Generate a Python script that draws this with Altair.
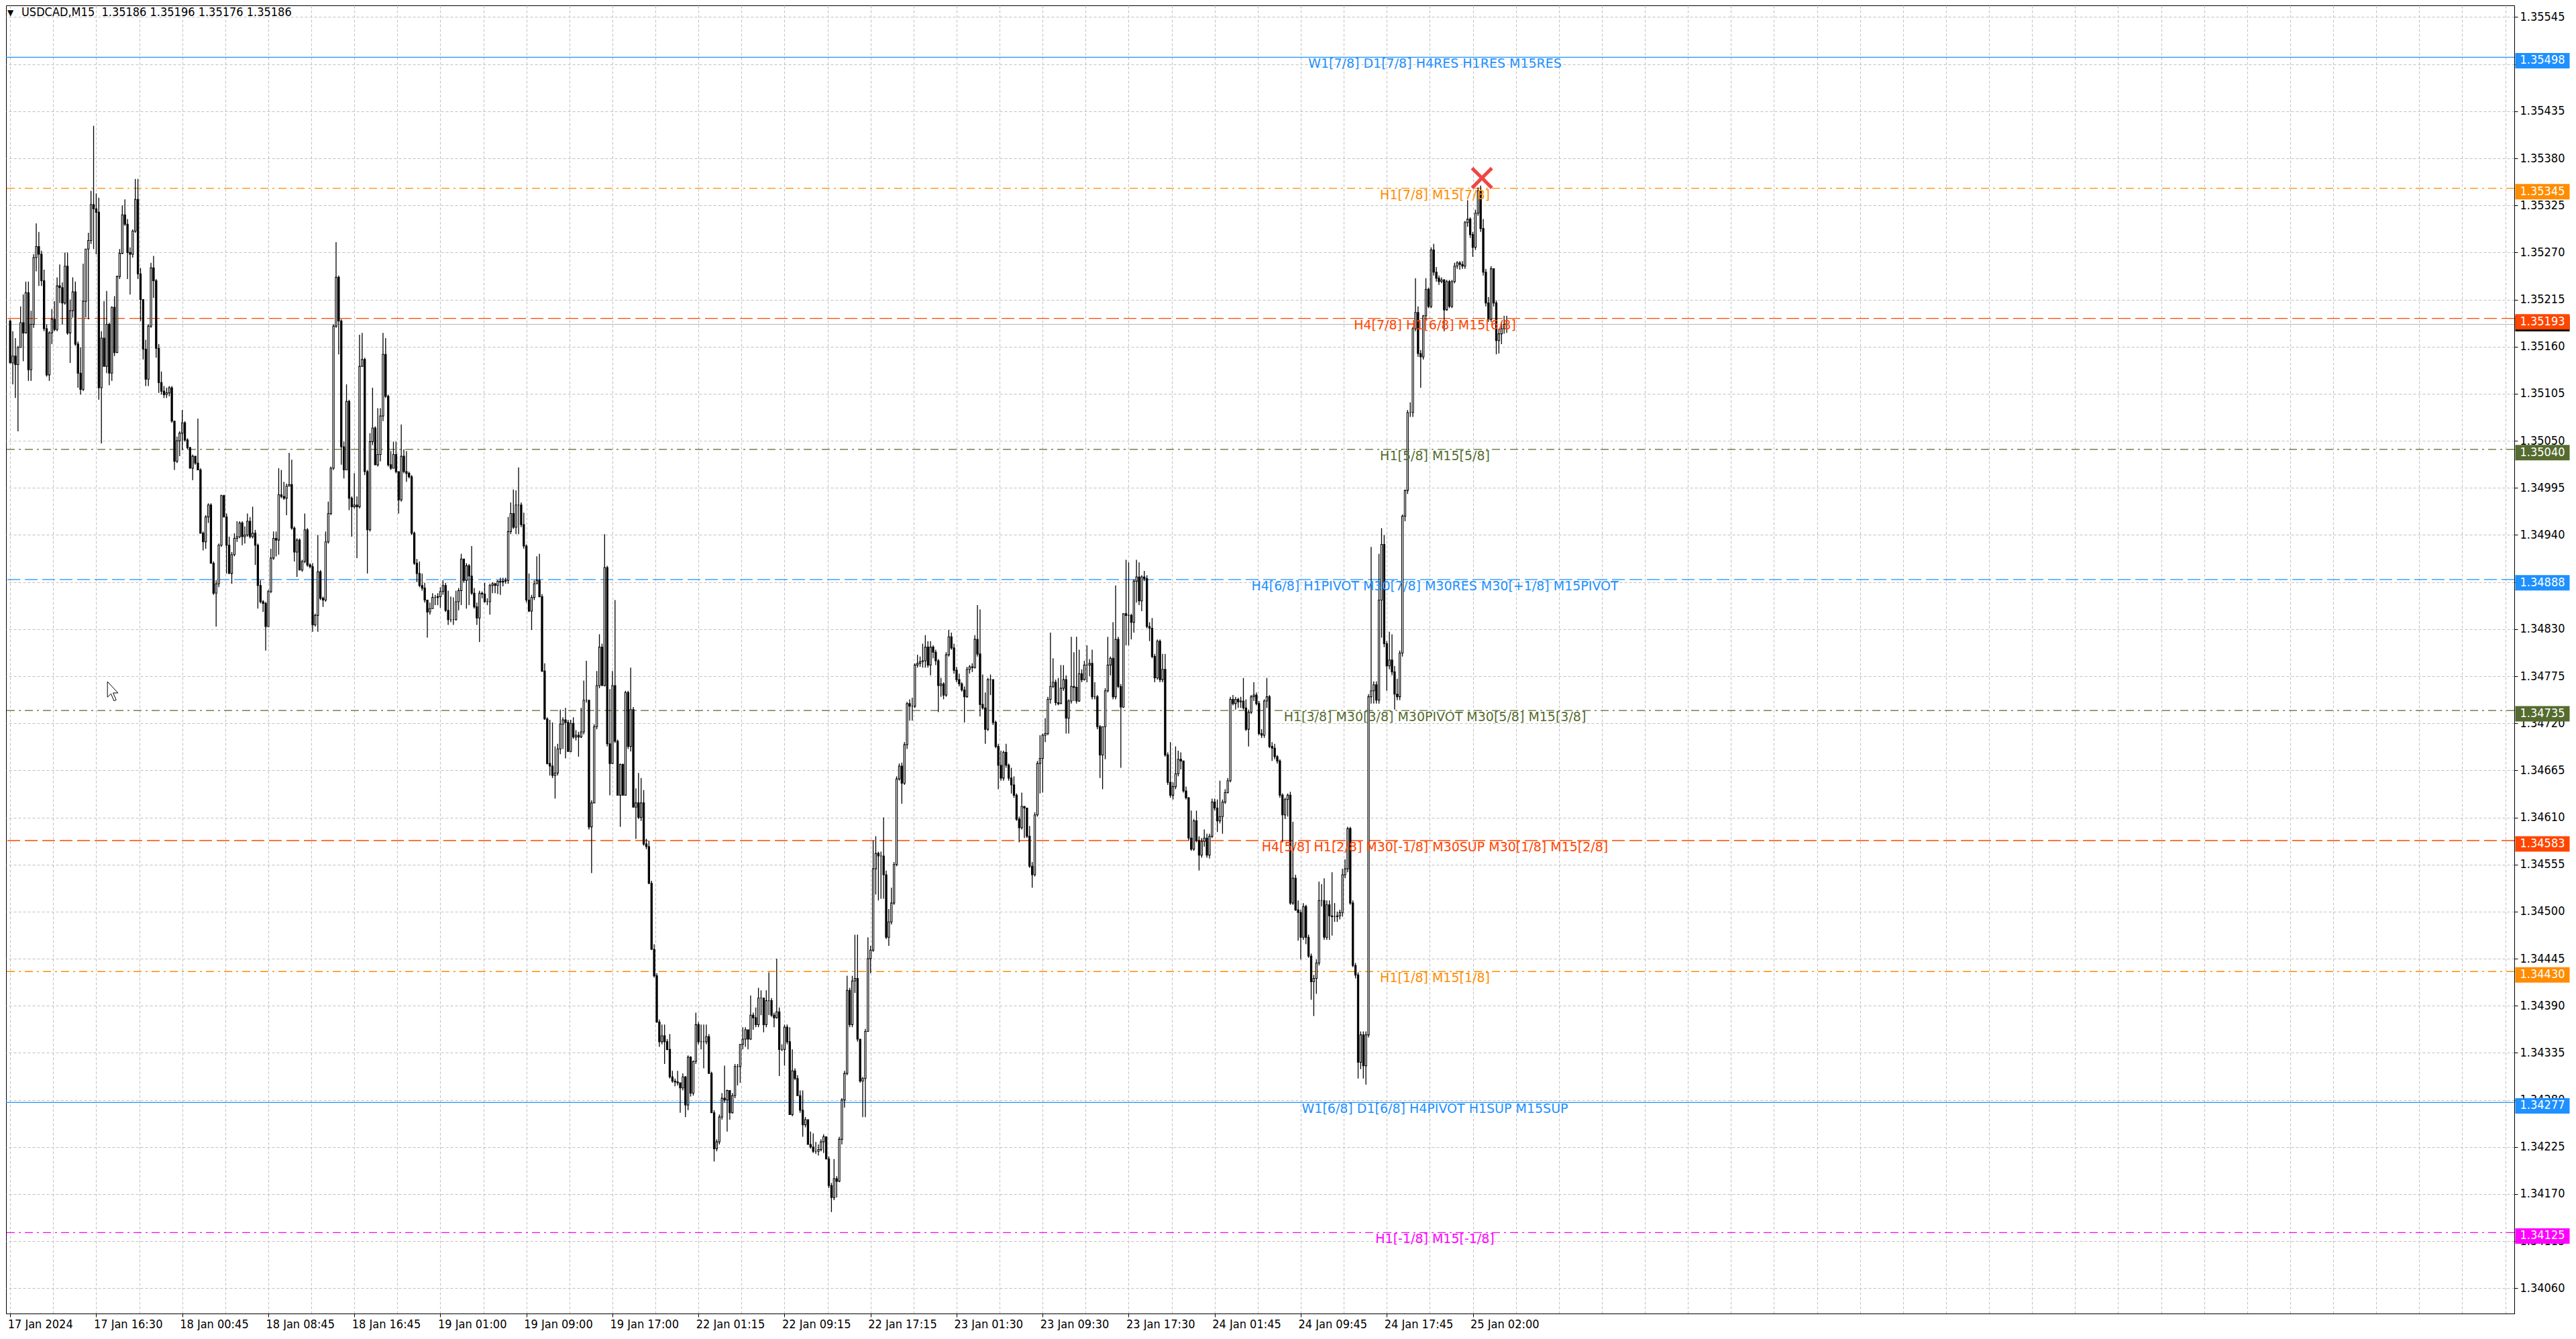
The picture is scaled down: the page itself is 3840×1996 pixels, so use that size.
import json

import altair as alt
import pandas as pd

# USDCAD M15 candles, prices in points (1 point = 0.00001)
first_open = 135190
high = [
    135192, 135178, 135170, 135161, 135207, 135221, 135236, 135236, 135202, 135268,
    135304, 135294, 135272, 135250, 135186, 135178, 135204, 135213, 135241, 135256,
    135235, 135270, 135270, 135215, 135241, 135236, 135166, 135159, 135257, 135274,
    135293, 135342, 135418, 135339, 135334, 135178, 135213, 135225, 135188, 135207,
    135219, 135243, 135274, 135325, 135332, 135309, 135276, 135297, 135356, 135356,
    135252, 135215, 135168, 135186, 135258, 135266, 135239, 135163, 135131, 135114,
    135112, 135114, 135114, 135073, 135055, 135061, 135086, 135073, 135053, 135043,
    135034, 135032, 135076, 135018, 134944, 134963, 134977, 134977, 134909, 134887,
    134930, 134987, 134987, 134965, 134938, 134920, 134942, 134956, 134956, 134956,
    134950, 134965, 134961, 134973, 134946, 134930, 134887, 134864, 134862, 134876,
    134924, 134944, 134944, 135018, 135016, 135002, 135000, 135036, 135028, 134950,
    134936, 134936, 134911, 134965, 134948, 134907, 134907, 134848, 134940, 134899,
    134868, 134944, 134979, 135020, 135186, 135282, 135243, 135192, 135049, 135116,
    135098, 134985, 135012, 134985, 135174, 135176, 135147, 135016, 135059, 135112,
    135067, 135088, 135088, 135176, 135170, 135104, 135038, 135049, 135049, 135014,
    135069, 135040, 135038, 135014, 135010, 134944, 134912, 134909, 134895, 134884,
    134861, 134861, 134872, 134870, 134872, 134879, 134887, 134884, 134875, 134868,
    134867, 134875, 134878, 134918, 134912, 134907, 134906, 134927, 134878, 134861,
    134875, 134874, 134884, 134866, 134883, 134885, 134884, 134887, 134890, 134890,
    134890, 134961, 134978, 134993, 134992, 135019, 134978, 134966, 134929, 134895,
    134870, 134887, 134915, 134918, 134871, 134790, 134727, 134724, 134721, 134693,
    134696, 134736, 134727, 134738, 134724, 134724, 134727, 134712, 134710, 134738,
    134770, 134793, 134747, 134630, 134719, 134781, 134824, 134813, 134941, 134904,
    134760, 134781, 134864, 134701, 134673, 134673, 134758, 134758, 134785, 134739,
    134644, 134662, 134656, 134642, 134585, 134583, 134536, 134462, 134428, 134374,
    134368, 134368, 134351, 134357, 134314, 134305, 134314, 134300, 134311, 134308,
    134332, 134331, 134326, 134382, 134371, 134368, 134368, 134368, 134357, 134313,
    134268, 134234, 134263, 134288, 134320, 134292, 134291, 134288, 134322, 134322,
    134345, 134365, 134365, 134362, 134402, 134382, 134388, 134411, 134408, 134399,
    134408, 134429, 134399, 134382, 134445, 134388, 134345, 134368, 134368, 134365,
    134339, 134317, 134309, 134291, 134291, 134260, 134257, 134243, 134241, 134231,
    134228, 134234, 134240, 134237, 134214, 134183, 134211, 134191, 134237, 134282,
    134314, 134425, 134411, 134425, 134473, 134473, 134351, 134307, 134363, 134470,
    134460, 134583, 134588, 134570, 134570, 134610, 134548, 134503, 134528, 134558,
    134658, 134673, 134674, 134698, 134745, 134748, 134750, 134790, 134800, 134798,
    134813, 134823, 134816, 134816, 134811, 134806, 134795, 134773, 134768, 134803,
    134829, 134826, 134813, 134786, 134778, 134768, 134763, 134786, 134788, 134790,
    134823, 134858, 134853, 134777, 134756, 134773, 134777, 134771, 134723, 134696,
    134688, 134688, 134696, 134673, 134668, 134658, 134638, 134611, 134639, 134623,
    134618, 134600, 134558, 134616, 134676, 134706, 134708, 134726, 134751, 134826,
    134796, 134771, 134773, 134788, 134788, 134776, 134748, 134821, 134803, 134821,
    134806, 134783, 134793, 134811, 134795, 134806, 134768, 134753, 134718, 134716,
    134761, 134821, 134798, 134838, 134881, 134821, 134766, 134848, 134911, 134908,
    134848, 134888, 134911, 134908, 134893, 134898, 134893, 134838, 134843, 134801,
    134818, 134818, 134801, 134801, 134686, 134698, 134651, 134693, 134688, 134686,
    134676, 134646, 134634, 134618, 134608, 134618, 134588, 134586, 134596, 134591,
    134591, 134632, 134632, 134631, 134653, 134631, 134643, 134656, 134751, 134753,
    134751, 134750, 134751, 134773, 134748, 134736, 134753, 134768, 134756, 134746,
    134713, 134748, 134773, 134753, 134698, 134696, 134683, 134678, 134638, 134633,
    134638, 134640, 134605, 134543, 134513, 134502, 134510, 134508, 134473, 134451,
    134426, 134444, 134535, 134532, 134539, 134513, 134513, 134546, 134510, 134500,
    134502, 134550, 134561, 134599, 134599, 134513, 134440, 134429, 134360, 134360,
    134360, 134754, 134926, 134769, 134769, 134918, 134948, 134940, 134816, 134827,
    134824, 134787, 134772, 134805, 134964, 134993, 135086, 135095, 135183, 135240,
    135207, 135156, 135197, 135240, 135229, 135276, 135280, 135253, 135243, 135241,
    135239, 135238, 135238, 135238, 135258, 135260, 135260, 135260, 135307, 135331,
    135311, 135294, 135320, 135346, 135348, 135309, 135251, 135218, 135254, 135251,
    135214, 135181, 135189, 135196, 135196,
]
low = [
    135141, 135116, 135100, 135061, 135161, 135143, 135176, 135120, 135120, 135182,
    135248, 135231, 135231, 135178, 135125, 135120, 135163, 135178, 135178, 135211,
    135186, 135209, 135174, 135141, 135194, 135161, 135112, 135104, 135108, 135194,
    135192, 135280, 135274, 135268, 135098, 135047, 135137, 135129, 135115, 135120,
    135149, 135161, 135239, 135268, 135301, 135239, 135221, 135264, 135293, 135239,
    135190, 135145, 135114, 135114, 135182, 135217, 135147, 135106, 135104, 135100,
    135100, 135102, 135071, 135016, 135024, 135032, 135039, 135049, 135040, 135018,
    135004, 135022, 135016, 134942, 134922, 134924, 134954, 134907, 134870, 134833,
    134879, 134926, 134961, 134895, 134895, 134883, 134915, 134932, 134936, 134928,
    134930, 134938, 134936, 134936, 134905, 134854, 134860, 134850, 134805, 134833,
    134872, 134911, 134915, 134917, 134983, 134981, 134963, 134997, 134946, 134909,
    134891, 134899, 134897, 134907, 134903, 134901, 134827, 134833, 134827, 134864,
    134856, 134862, 134930, 134963, 135016, 135182, 135151, 135022, 135006, 135016,
    134969, 134938, 134971, 134913, 134971, 135137, 135010, 134895, 134944, 135045,
    135022, 135020, 135026, 135073, 135100, 135020, 135016, 135018, 135012, 134965,
    134979, 135012, 135002, 135006, 134940, 134905, 134885, 134879, 134875, 134861,
    134820, 134847, 134855, 134858, 134858, 134855, 134870, 134850, 134835, 134838,
    134835, 134840, 134852, 134858, 134884, 134854, 134858, 134870, 134854, 134835,
    134815, 134866, 134861, 134858, 134847, 134872, 134872, 134871, 134870, 134880,
    134883, 134883, 134941, 134947, 134941, 134941, 134949, 134924, 134861, 134850,
    134829, 134864, 134883, 134867, 134780, 134724, 134672, 134659, 134656, 134632,
    134659, 134684, 134690, 134679, 134687, 134686, 134702, 134700, 134681, 134703,
    134707, 134744, 134596, 134545, 134627, 134713, 134761, 134764, 134763, 134693,
    134636, 134673, 134697, 134636, 134599, 134636, 134636, 134690, 134687, 134622,
    134585, 134608, 134606, 134577, 134573, 134532, 134455, 134423, 134370, 134342,
    134345, 134322, 134338, 134305, 134300, 134296, 134297, 134265, 134291, 134260,
    134268, 134284, 134285, 134322, 134345, 134339, 134317, 134345, 134311, 134265,
    134208, 134220, 134228, 134257, 134277, 134243, 134257, 134264, 134282, 134297,
    134300, 134339, 134342, 134339, 134350, 134362, 134365, 134365, 134379, 134359,
    134365, 134379, 134377, 134365, 134375, 134308, 134337, 134320, 134345, 134263,
    134261, 134303, 134285, 134265, 134237, 134248, 134228, 134223, 134218, 134217,
    134215, 134220, 134218, 134211, 134177, 134149, 134163, 134166, 134184, 134228,
    134271, 134309, 134365, 134365, 134405, 134348, 134300, 134260, 134260, 134360,
    134428, 134453, 134520, 134513, 134515, 134515, 134468, 134460, 134485, 134508,
    134553, 134653, 134626, 134648, 134690, 134723, 134723, 134738, 134785, 134786,
    134785, 134785, 134785, 134776, 134796, 134788, 134733, 134751, 134748, 134751,
    134798, 134806, 134778, 134768, 134763, 134757, 134721, 134750, 134778, 134780,
    134784, 134798, 134728, 134736, 134696, 134711, 134753, 134718, 134691, 134643,
    134653, 134653, 134668, 134653, 134638, 134633, 134606, 134581, 134596, 134586,
    134586, 134551, 134528, 134541, 134611, 134638, 134639, 134698, 134706, 134743,
    134761, 134741, 134741, 134743, 134758, 134708, 134708, 134743, 134746, 134743,
    134745, 134768, 134770, 134768, 134775, 134748, 134748, 134713, 134656, 134643,
    134678, 134756, 134776, 134748, 134748, 134761, 134668, 134738, 134811, 134811,
    134818, 134826, 134861, 134858, 134851, 134886, 134831, 134816, 134796, 134768,
    134771, 134768, 134768, 134681, 134648, 134633, 134631, 134643, 134658, 134666,
    134639, 134631, 134583, 134571, 134571, 134581, 134548, 134563, 134576, 134563,
    134562, 134586, 134618, 134593, 134603, 134591, 134626, 134638, 134651, 134741,
    134736, 134738, 134738, 134736, 134711, 134693, 134731, 134746, 134741, 134706,
    134703, 134703, 134738, 134691, 134676, 134678, 134673, 134633, 134581, 134608,
    134611, 134508, 134508, 134501, 134466, 134444, 134467, 134462, 134446, 134397,
    134378, 134404, 134437, 134506, 134467, 134467, 134467, 134472, 134488, 134488,
    134491, 134494, 134539, 134546, 134508, 134435, 134422, 134305, 134316, 134305,
    134298, 134353, 134743, 134743, 134743, 134743, 134820, 134809, 134758, 134783,
    134776, 134736, 134747, 134747, 134798, 134956, 134988, 135078, 135078, 135178,
    135148, 135112, 135145, 135190, 135205, 135205, 135243, 135236, 135232, 135234,
    135178, 135202, 135205, 135205, 135234, 135251, 135250, 135251, 135251, 135300,
    135287, 135265, 135273, 135313, 135294, 135243, 135207, 135189, 135189, 135207,
    135151, 135152, 135163, 135175, 135176,
]
close = [
    135141, 135149, 135139, 135159, 135188, 135176, 135223, 135133, 135186, 135264,
    135277, 135268, 135237, 135181, 135127, 135176, 135192, 135180, 135231, 135229,
    135211, 135254, 135176, 135202, 135224, 135163, 135129, 135110, 135213, 135274,
    135284, 135326, 135321, 135317, 135112, 135170, 135137, 135186, 135129, 135206,
    135153, 135242, 135269, 135314, 135303, 135270, 135268, 135295, 135332, 135245,
    135215, 135157, 135122, 135184, 135252, 135237, 135158, 135118, 135108, 135104,
    135106, 135112, 135073, 135026, 135050, 135059, 135071, 135051, 135042, 135018,
    135032, 135024, 135016, 134942, 134932, 134961, 134975, 134907, 134872, 134883,
    134928, 134986, 134961, 134928, 134895, 134917, 134936, 134938, 134954, 134938,
    134940, 134956, 134938, 134942, 134928, 134881, 134862, 134860, 134833, 134874,
    134913, 134936, 134934, 134987, 134985, 134983, 134997, 134999, 134948, 134920,
    134934, 134899, 134909, 134946, 134905, 134903, 134835, 134846, 134897, 134866,
    134864, 134932, 134965, 135018, 135184, 135241, 135190, 135043, 135016, 135096,
    134983, 134973, 134975, 134973, 135137, 135145, 135014, 134946, 135049, 135065,
    135022, 135034, 135079, 135151, 135102, 135022, 135018, 135034, 135014, 134981,
    135032, 135014, 135012, 135008, 134942, 134907, 134895, 134881, 134878, 134864,
    134850, 134854, 134867, 134867, 134868, 134874, 134881, 134852, 134841, 134841,
    134841, 134862, 134875, 134912, 134887, 134904, 134892, 134872, 134856, 134843,
    134872, 134871, 134862, 134862, 134881, 134883, 134881, 134886, 134885, 134886,
    134887, 134944, 134965, 134949, 134975, 134975, 134952, 134927, 134864, 134851,
    134867, 134883, 134887, 134868, 134781, 134725, 134673, 134670, 134659, 134662,
    134690, 134719, 134724, 134721, 134687, 134720, 134704, 134706, 134704, 134710,
    134747, 134747, 134599, 134627, 134716, 134764, 134809, 134764, 134902, 134696,
    134673, 134764, 134699, 134636, 134672, 134636, 134756, 134693, 134736, 134622,
    134627, 134610, 134627, 134579, 134576, 134533, 134456, 134425, 134371, 134348,
    134355, 134348, 134339, 134307, 134302, 134301, 134300, 134294, 134307, 134274,
    134330, 134288, 134325, 134368, 134348, 134348, 134348, 134354, 134311, 134265,
    134223, 134231, 134260, 134282, 134280, 134291, 134265, 134285, 134319, 134319,
    134345, 134351, 134362, 134351, 134379, 134376, 134368, 134399, 134399, 134368,
    134396, 134396, 134379, 134376, 134383, 134339, 134339, 134365, 134348, 134263,
    134314, 134305, 134285, 134268, 134251, 134257, 134228, 134225, 134220, 134220,
    134222, 134231, 134237, 134211, 134180, 134166, 134188, 134185, 134234, 134280,
    134311, 134408, 134368, 134419, 134422, 134351, 134302, 134305, 134360, 134445,
    134455, 134550, 134568, 134565, 134565, 134543, 134470, 134488, 134510, 134555,
    134655, 134670, 134650, 134695, 134743, 134740, 134740, 134788, 134790, 134792,
    134793, 134809, 134788, 134809, 134803, 134793, 134764, 134766, 134753, 134800,
    134821, 134808, 134782, 134771, 134766, 134759, 134751, 134783, 134786, 134785,
    134818, 134801, 134742, 134738, 134713, 134771, 134771, 134721, 134693, 134671,
    134656, 134686, 134671, 134656, 134648, 134636, 134608, 134598, 134623, 134621,
    134588, 134553, 134543, 134613, 134673, 134679, 134706, 134708, 134748, 134763,
    134768, 134744, 134743, 134761, 134771, 134726, 134746, 134763, 134762, 134746,
    134778, 134771, 134788, 134788, 134790, 134751, 134751, 134716, 134683, 134716,
    134758, 134788, 134796, 134751, 134818, 134763, 134739, 134848, 134846, 134846,
    134838, 134886, 134891, 134863, 134891, 134889, 134833, 134831, 134798, 134773,
    134816, 134771, 134783, 134683, 134651, 134636, 134646, 134661, 134678, 134676,
    134641, 134633, 134586, 134573, 134606, 134583, 134566, 134582, 134586, 134566,
    134588, 134628, 134621, 134606, 134611, 134628, 134639, 134653, 134748, 134743,
    134748, 134745, 134746, 134738, 134713, 134733, 134751, 134753, 134743, 134708,
    134706, 134746, 134751, 134693, 134691, 134681, 134676, 134636, 134613, 134631,
    134636, 134510, 134539, 134502, 134499, 134470, 134506, 134470, 134448, 134418,
    134422, 134440, 134513, 134513, 134470, 134508, 134495, 134494, 134494, 134495,
    134499, 134543, 134550, 134597, 134510, 134437, 134426, 134324, 134356, 134320,
    134356, 134751, 134758, 134765, 134747, 134864, 134929, 134813, 134787, 134794,
    134780, 134754, 134751, 134802, 134962, 134992, 135083, 135083, 135181, 135200,
    135152, 135148, 135196, 135227, 135207, 135273, 135247, 135240, 135236, 135238,
    135203, 135236, 135207, 135236, 135254, 135258, 135256, 135254, 135305, 135309,
    135291, 135276, 135316, 135342, 135298, 135247, 135211, 135192, 135251, 135211,
    135167, 135175, 135181, 135186, 135186,
]

# time axis: one label every 33 bars, grid every half step
time_labels = [
    "17 Jan 2024", "17 Jan 16:30", "18 Jan 00:45", "18 Jan 08:45", "18 Jan 16:45",
    "19 Jan 01:00", "19 Jan 09:00", "19 Jan 17:00", "22 Jan 01:15", "22 Jan 09:15",
    "22 Jan 17:15", "23 Jan 01:30", "23 Jan 09:30", "23 Jan 17:30", "24 Jan 01:45",
    "24 Jan 09:45", "24 Jan 17:45", "25 Jan 02:00",
]
label_step = 33

price_ticks = [
    1.34060, 1.34115, 1.34170, 1.34225, 1.34280, 1.34335, 1.34390, 1.34445,
    1.34500, 1.34555, 1.34610, 1.34665, 1.34720, 1.34775, 1.34830, 1.34885,
    1.34940, 1.34995, 1.35050, 1.35105, 1.35160, 1.35215, 1.35270, 1.35325,
    1.35380, 1.35435, 1.35490, 1.35545,
]

# murrey math levels
level_price = [1.35498, 1.35345, 1.35193, 1.35040, 1.34888,
               1.34735, 1.34583, 1.34430, 1.34277, 1.34125]
level_color = ["#1e90ff", "#ff8c00", "#ff4500", "#556b2f", "#1e90ff",
               "#556b2f", "#ff4500", "#ff8c00", "#1e90ff", "#ff00ff"]
level_style = ["solid", "dashdot", "dash", "dashdot", "dash",
               "dashdot", "dash", "dashdot", "solid", "dashdot"]
level_text = [
    "W1[7/8] D1[7/8] H4RES H1RES M15RES",
    "H1[7/8] M15[7/8]",
    "H4[7/8] H1[6/8] M15[6/8]",
    "H1[5/8] M15[5/8]",
    "H4[6/8] H1PIVOT M30[7/8] M30RES M30[+1/8] M15PIVOT",
    "H1[3/8] M30[3/8] M30PIVOT M30[5/8] M15[3/8]",
    "H4[5/8] H1[2/8] M30[-1/8] M30SUP M30[1/8] M15[2/8]",
    "H1[1/8] M15[1/8]",
    "W1[6/8] D1[6/8] H4PIVOT H1SUP M15SUP",
    "H1[-1/8] M15[-1/8]",
]

bid = 1.35186
cross_bar = 564.5
cross_price = 1.35357

W, H = 3739, 1950
FONT = "DejaVu Sans Condensed"
LFONT = "DejaVu Sans"
X_PATH = "M-1,-0.78L-0.78,-1L0,-0.22L0.78,-1L1,-0.78L0.22,0L1,0.78L0.78,1L0,0.22L-0.78,1L-1,0.78L-0.22,0Z"
CURSOR = "M-0.55,-1L-0.55,0.45L-0.22,0.14L0.06,0.8L0.26,0.71L-0.02,0.06L0.43,0.06Z"

assert len(high) == len(low) == len(close)

df = pd.DataFrame({"i": range(len(close)), "high": high, "low": low, "close": close})
df["open"] = [first_open] + close[:-1]
df["high"] = df[["high", "open", "close"]].max(axis=1)
df["low"] = df[["low", "open", "close"]].min(axis=1)
ohlc = ["open", "high", "low", "close"]
df[ohlc] = df[ohlc] / 1e5

levels = pd.DataFrame({"price": level_price, "color": level_color,
                       "style": level_style, "text": level_text})
bid_df = pd.DataFrame({"price": [bid]})

xscale = alt.Scale(domain=[-0.3, 959.17], nice=False, zero=False)
yscale = alt.Scale(domain=[1.340305, 1.355587], nice=False, zero=False)

last_lab = label_step * (len(time_labels) - 1)
is_lab = f"datum.value % {label_step} === 0 && datum.value <= {last_lab}"
x_axis = alt.Axis(
    values=[label_step / 2 * k for k in range(59)],
    labelExpr=f"({is_lab}) ? {json.dumps(time_labels)}[datum.value / {label_step}] : ''",
    labelAlign="left", labelBaseline="top", labelFlush=False, labelOverlap=False,
    labelFont=FONT, labelFontSize=18, labelColor="black", labelPadding=2, labelOffset=-4,
    tickSize=5, tickColor="black",
    tickOpacity={"condition": {"test": is_lab, "value": 1}, "value": 0},
    grid=True, gridColor="#c0c0c0", gridDash=[4, 3],
    domainColor="black", title=None,
)
y_axis = alt.Axis(
    orient="right", values=price_ticks, format=".5f",
    labelFont=FONT, labelFontSize=18, labelColor="black", labelPadding=3,
    labelOverlap=False, labelFlush=False,
    tickSize=5, tickColor="black",
    grid=True, gridColor="#c0c0c0", gridDash=[4, 3],
    domainColor="black", title=None,
)

x_bar = alt.X("i:Q", scale=xscale, axis=x_axis)
y_price = alt.Y("price:Q", scale=yscale, axis=y_axis)
level_col = alt.Color("color:N", scale=None)

level_lines = alt.Chart(levels).mark_rule(strokeWidth=1.3).encode(
    y=y_price,
    color=level_col,
    strokeDash=alt.StrokeDash(
        "style:N",
        scale=alt.Scale(domain=["solid", "dash", "dashdot"],
                        range=[[1, 0], [19, 7], [12, 6, 3, 6]]),
        legend=None,
    ),
)
bid_line = alt.Chart(bid_df).mark_rule(color="#b4b4b4", strokeWidth=1).encode(y=y_price)

wicks = alt.Chart(df).mark_rule(color="black", strokeWidth=1.3, clip=True).encode(
    x=x_bar,
    y=alt.Y("low:Q", scale=yscale, axis=y_axis),
    y2="high:Q",
)
bodies = alt.Chart(df).mark_bar(size=2.2, stroke="black", strokeWidth=1.1, clip=True).encode(
    x=x_bar,
    y=alt.Y("open:Q", scale=yscale, axis=y_axis),
    y2="close:Q",
    fill=alt.condition("datum.close >= datum.open", alt.value("white"), alt.value("black")),
)

level_labels = alt.Chart(levels).mark_text(
    font=LFONT, fontSize=19, align="center", baseline="middle", dy=10
).encode(x=alt.value(2130), y=y_price, text="text:N", color=level_col)

cross = alt.Chart(pd.DataFrame({"i": [cross_bar], "price": [cross_price]})).mark_point(
    shape=X_PATH, filled=True, size=1100, color="#ee3b3b", opacity=0.95
).encode(x=x_bar, y=y_price)

cursor = alt.Chart(pd.DataFrame({"k": [0]})).mark_point(
    shape=CURSOR, filled=True, fill="white", stroke="black", strokeWidth=1,
    size=1024, opacity=1
).encode(x=alt.value(160), y=alt.value(1024))

last = df.iloc[-1]
head = f"USDCAD,M15\u00a0 {last.open:.5f} {last.high:.5f} {last.low:.5f} {last.close:.5f}"
header = alt.Chart(pd.DataFrame({"t": [head]})).mark_text(
    font=FONT, fontSize=18, align="left", baseline="middle", color="black"
).encode(x=alt.value(23), y=alt.value(11), text="t:N")
triangle = alt.Chart(pd.DataFrame({"t": ["\u25bc"]})).mark_text(
    font=LFONT, fontSize=12, align="left", baseline="middle", color="black"
).encode(x=alt.value(2), y=alt.value(11), text="t:N")

bid_box = alt.Chart(bid_df).mark_tick(
    orient="horizontal", size=81, thickness=23, yOffset=-1, color="black", opacity=1
).encode(x=alt.value(W + 42), y=y_price)
boxes = alt.Chart(levels).mark_tick(
    orient="horizontal", size=81, thickness=23, yOffset=5, opacity=1
).encode(x=alt.value(W + 42), y=y_price, color=level_col)
box_text = alt.Chart(levels).mark_text(
    font=FONT, fontSize=18, color="white", align="center", baseline="middle", yOffset=5
).encode(x=alt.value(W + 42), y=y_price, text=alt.Text("price:Q", format=".5f"))

chart = alt.layer(
    level_lines, bid_line, wicks, bodies, level_labels, cross, cursor,
    header, triangle, bid_box, boxes, box_text,
).properties(
    width=W, height=H, padding=0, background="white"
).configure_view(stroke="black", strokeWidth=1)

chart.save("out.html", embed_options={"renderer": "svg", "actions": False})
